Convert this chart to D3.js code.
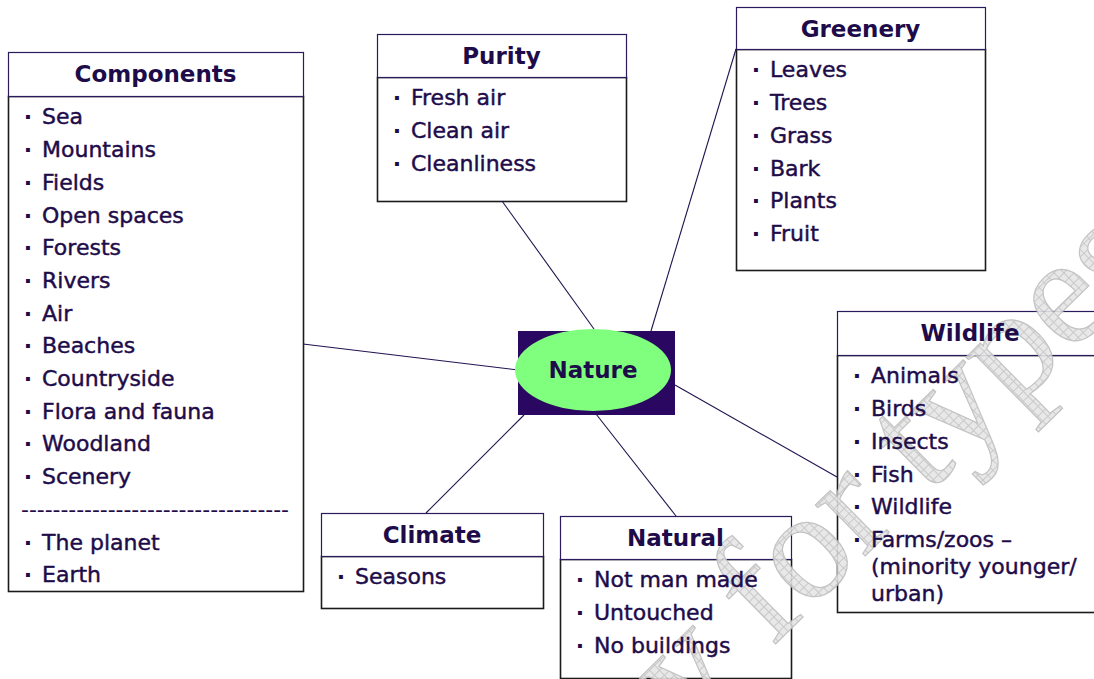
<!DOCTYPE html>
<html>
<head>
<meta charset="utf-8">
<script src="https://cdn.jsdelivr.net/npm/d3@7"></script>
<style>
  html, body { margin: 0; padding: 0; background: #fff; }
  svg { display: block; }
</style>
</head>
<body>
<div id="app"></div>
<script>
// ---- data -------------------------------------------------------------
const hubLabel = 'Nature';
const titles = ['Components', 'Purity', 'Greenery', 'Wildlife', 'Climate', 'Natural'];
const componentsItems = ['Sea', 'Mountains', 'Fields', 'Open spaces', 'Forests', 'Rivers', 'Air',
  'Beaches', 'Countryside', 'Flora and fauna', 'Woodland', 'Scenery'];
const componentsExtra = ['The planet', 'Earth'];
const purityItems = ['Fresh air', 'Clean air', 'Cleanliness'];
const greeneryItems = ['Leaves', 'Trees', 'Grass', 'Bark', 'Plants', 'Fruit'];
const wildlifeItems = ['Animals', 'Birds', 'Insects', 'Fish', 'Wildlife',
  ['Farms/zoos –', '(minority younger/', 'urban)']];
const climateItems = ['Seasons'];
const naturalItems = ['Not man made', 'Untouched', 'No buildings'];
const watermarkText = 'y for types';

// ---- layout (pixels) --------------------------------------------------
const W = 1094, H = 679;
const layout = {
  Components: { x: 8,   y: 52,  w: 295, th: 44, bottom: 591 },
  Purity:     { x: 377, y: 34,  w: 249, th: 43, bottom: 201 },
  Greenery:   { x: 736, y: 7,   w: 249, th: 42, bottom: 270 },
  Wildlife:   { x: 837, y: 311, w: 266, th: 44, bottom: 612 },
  Climate:    { x: 321, y: 513, w: 222, th: 43, bottom: 608 },
  Natural:    { x: 560, y: 516, w: 231, th: 43, bottom: 678 }
};
// connector end points: [box side, hub side]
const links = {
  Components: [[303, 344], [518, 370]],
  Purity:     [[502, 201], [594, 329]],
  Greenery:   [[736, 49],  [651, 331]],
  Wildlife:   [[837, 477], [675, 385]],
  Climate:    [[426, 513], [524, 415]],
  Natural:    [[676, 516], [596, 414]]
};
const hubRect = { x: 518, y: 331, w: 157, h: 84 };
const hubEllipse = { cx: 593, cy: 370, rx: 78, ry: 41 };

const rowH = 32.7, wrapH = 27;
const ink = '#1e0c4a';
const font = '"DejaVu Sans", Verdana, sans-serif';

const itemsByTitle = {
  Components: componentsItems, Purity: purityItems, Greenery: greeneryItems,
  Wildlife: wildlifeItems, Climate: climateItems, Natural: naturalItems
};

const svg = d3.select('#app').append('svg')
  .attr('width', W).attr('height', H)
  .attr('viewBox', [0, 0, W, H]);

// hatch pattern for the watermark
const defs = svg.append('defs');
const pat = defs.append('pattern')
  .attr('id', 'hatch').attr('patternUnits', 'userSpaceOnUse')
  .attr('width', 7).attr('height', 7);
pat.append('rect').attr('width', 7).attr('height', 7).attr('fill', '#e6e6e6');
pat.append('path').attr('d', 'M0 0.5H7M0.5 0V7').attr('stroke', '#c4c4c4').attr('stroke-width', 1);

// ---- boxes (frames) ---------------------------------------------------
const frames = svg.append('g');
titles.forEach(t => {
  const b = layout[t];
  frames.append('rect')
    .attr('x', b.x + 0.5).attr('y', b.y + b.th + 0.5)
    .attr('width', b.w).attr('height', b.bottom - b.y - b.th)
    .attr('fill', '#fff').attr('stroke', '#1b1b1b').attr('stroke-width', 1.6);
  frames.append('rect')
    .attr('x', b.x + 0.5).attr('y', b.y + 0.5)
    .attr('width', b.w).attr('height', b.th)
    .attr('fill', '#fff').attr('stroke', '#2b1a5c').attr('stroke-width', 1.2);
});

// ---- connectors -------------------------------------------------------
svg.append('g').selectAll('line').data(titles).join('line')
  .attr('x1', d => links[d][0][0]).attr('y1', d => links[d][0][1])
  .attr('x2', d => links[d][1][0]).attr('y2', d => links[d][1][1])
  .attr('stroke', '#22124f').attr('stroke-width', 1.1);

// ---- hub --------------------------------------------------------------
svg.append('rect')
  .attr('x', hubRect.x).attr('y', hubRect.y)
  .attr('width', hubRect.w).attr('height', hubRect.h)
  .attr('fill', '#2a0760');
svg.append('ellipse')
  .attr('cx', hubEllipse.cx).attr('cy', hubEllipse.cy)
  .attr('rx', hubEllipse.rx).attr('ry', hubEllipse.ry)
  .attr('fill', '#80ff7e');

// ---- watermark (clipped by the page edge, as in the source) -----------
svg.append('text')
  .attr('transform', 'translate(688,730) rotate(-44.5)')
  .attr('font-family', '"Liberation Serif", "DejaVu Serif", serif')
  .attr('font-size', 155)
  .attr('fill', 'url(#hatch)')
  .attr('stroke', '#bdbdbd').attr('stroke-width', 1.2)
  .attr('opacity', 0.9)
  .text(watermarkText);

// ---- texts ------------------------------------------------------------
svg.append('text')
  .attr('x', hubEllipse.cx).attr('y', hubEllipse.cy).attr('dy', '0.36em')
  .attr('text-anchor', 'middle')
  .attr('font-family', font).attr('font-weight', 'bold').attr('font-size', 23)
  .attr('fill', ink).text(hubLabel);

const texts = svg.append('g').attr('font-family', font).attr('fill', ink);
titles.forEach(t => {
  const b = layout[t];
  texts.append('text')
    .attr('x', b.x + b.w / 2).attr('y', b.y + 22).attr('dy', '0.36em')
    .attr('text-anchor', 'middle').attr('font-weight', 'bold').attr('font-size', 23)
    .text(t);

  let y = b.y + b.th + 20.5;
  const drawItem = item => {
    const lines = Array.isArray(item) ? item : [item];
    texts.append('text')
      .attr('x', b.x + 20).attr('y', y).attr('dy', '0.36em')
      .attr('text-anchor', 'middle').attr('font-size', 22).attr('font-weight', 'bold').text('·');
    lines.forEach((ln, i) => {
      texts.append('text')
        .attr('x', b.x + 34).attr('y', y + i * wrapH).attr('dy', '0.36em')
        .attr('font-size', 22)
        .attr('stroke', ink).attr('stroke-width', 0.45)
        .text(ln);
    });
    y += rowH;
  };
  itemsByTitle[t].forEach(drawItem);

  if (t === 'Components') {
    texts.append('text')
      .attr('x', b.x + 13).attr('y', y).attr('dy', '0.36em')
      .attr('font-size', 22)
      .attr('textLength', 268).attr('lengthAdjust', 'spacing')
      .text('-'.repeat(34));
    y += rowH;
    componentsExtra.forEach(drawItem);
  }
});
</script>
</body>
</html>
